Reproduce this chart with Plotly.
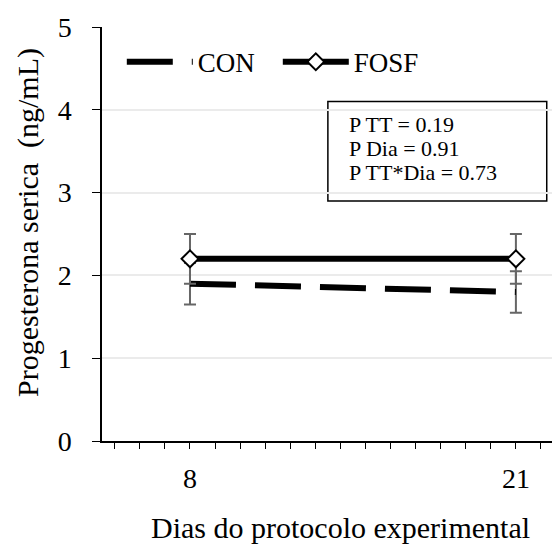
import plotly.graph_objects as go

days = [8, 21]
con_vals = [1.9, 1.8]
con_err = [0.25, 0.25]
fosf_vals = [2.2, 2.2]
fosf_err = [0.3, 0.3]
x_tickvals = list(range(5, 23))
x_ticktext = ["8" if d == 8 else ("21" if d == 21 else "") for d in x_tickvals]
y_tickvals = [0, 1, 2, 3, 4, 5]
stats_lines = ["P TT = 0.19", "P Dia = 0.91", "P TT*Dia = 0.73"]

FONT = "Liberation Serif, Times New Roman, serif"
ERRC = "#666666"

fig = go.Figure()
fig.add_trace(go.Scatter(
    x=days, y=con_vals, name="CON", mode="lines",
    line=dict(color="black", width=6, dash="46px,19px"),
    error_y=dict(type="data", array=con_err, color=ERRC, thickness=2, width=6),
))
fig.add_trace(go.Scatter(
    x=days, y=fosf_vals, name="FOSF", mode="lines+markers",
    line=dict(color="black", width=6),
    marker=dict(symbol="diamond", size=13, color="white", line=dict(color="black", width=2)),
    error_y=dict(type="data", array=fosf_err, color=ERRC, thickness=2, width=6),
))

fig.add_shape(type="rect", xref="x", yref="y", x0=13.5, x1=22.23, y0=2.9, y1=4.1,
              line=dict(color="black", width=1.5), fillcolor="white", layer="below")
for i, t in enumerate(stats_lines):
    fig.add_annotation(x=13.5 + 19 / 25.08, y=3.82 - i * 0.29, xref="x", yref="y", text=t,
                       showarrow=False, xanchor="left", yanchor="middle",
                       font=dict(family=FONT, size=22, color="black"))

fig.add_annotation(x=-0.164, y=0.527, xref="paper", yref="paper",
                   text="Progesterona serica&nbsp; (ng/mL)", textangle=-90, showarrow=False,
                   xanchor="center", yanchor="middle",
                   font=dict(family=FONT, size=30, color="black"))
fig.add_annotation(x=0.531, y=-0.21, xref="paper", yref="paper",
                   text="Dias do protocolo experimental", showarrow=False,
                   xanchor="center", yanchor="middle",
                   font=dict(family=FONT, size=30, color="black"))

fig.update_layout(
    width=552, height=545,
    margin=dict(l=102, r=0, t=27, b=104),
    paper_bgcolor="white", plot_bgcolor="white",
    font=dict(family=FONT, color="black"),
    showlegend=True,
    legend=dict(orientation="h", x=0.044, y=0.915, xanchor="left", yanchor="middle",
                font=dict(family=FONT, size=27, color="black"),
                bgcolor="rgba(0,0,0,0)", itemwidth=66, entrywidth=75, tracegroupgap=0),
    xaxis=dict(range=[4.49, 22.44], tickmode="array", tickvals=x_tickvals, ticktext=x_ticktext,
               showgrid=False, zeroline=False, showline=True, linecolor="black", linewidth=1.5,
               ticks="outside", ticklen=6, tickwidth=1, tickcolor="black",
               ticklabelstandoff=6,
               tickfont=dict(family=FONT, size=28, color="black")),
    yaxis=dict(range=[0, 5], tickmode="array", tickvals=y_tickvals,
               showgrid=True, gridcolor="#ebebeb", gridwidth=1.5, zeroline=False,
               showline=True, linecolor="black", linewidth=1.5,
               ticks="outside", ticklen=8, tickwidth=1, tickcolor="black",
               ticklabelstandoff=15,
               tickfont=dict(family=FONT, size=28, color="black")),
)

fig.write_html("out.html", config={"displayModeBar": False},
               post_script="document.body.style.margin='0';document.body.style.overflow='hidden';")
